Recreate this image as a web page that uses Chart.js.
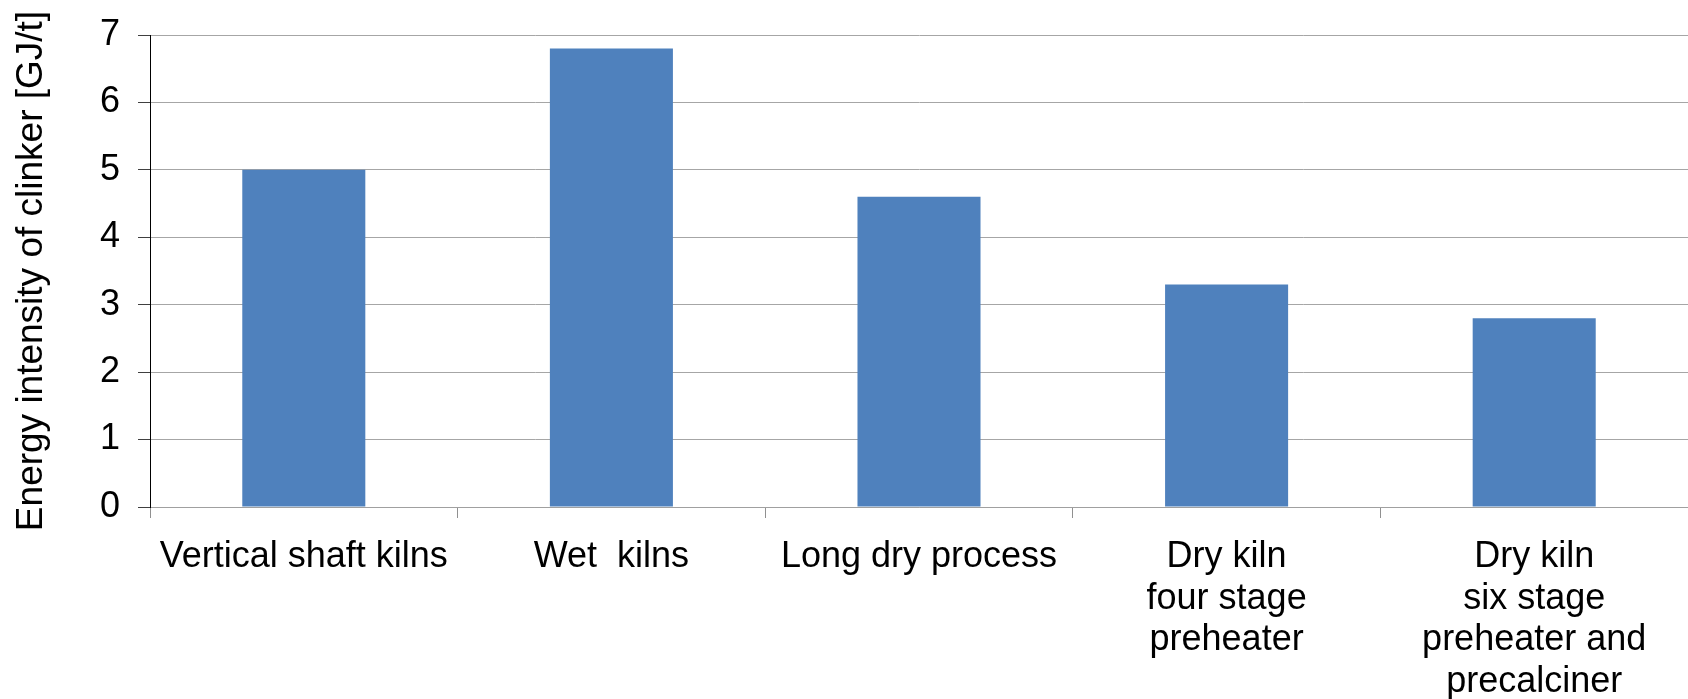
<!DOCTYPE html>
<html>
<head>
<meta charset="utf-8">
<script src="https://cdn.jsdelivr.net/npm/chart.js@4"></script>
<style>
  html, body { margin: 0; padding: 0; background: #fff; }
  #wrap { width: 1688px; height: 699px; }
</style>
</head>
<body>
<div id="wrap"><canvas id="c" width="1688" height="699"></canvas></div>
<script>
// Kiln technologies and their clinker energy intensity
const categories = [
  'Vertical shaft kilns',
  'Wet  kilns',
  'Long dry process',
  ['Dry kiln', 'four stage', 'preheater'],
  ['Dry kiln', 'six stage', 'preheater and', 'precalciner']
];
const energyIntensity = [5.0, 6.8, 4.6, 3.3, 2.8];
const yTicks = [0, 1, 2, 3, 4, 5, 6, 7];

const FONT = '"Liberation Sans", Arial, sans-serif';

new Chart(document.getElementById('c'), {
  type: 'bar',
  data: {
    labels: categories,
    datasets: [{
      data: energyIntensity,
      backgroundColor: '#4F81BD',
      borderWidth: 0,
      barPercentage: 0.4,
      categoryPercentage: 1.0
    }]
  },
  options: {
    responsive: false,
    animation: false,
    layout: { padding: { top: 35, right: 0, left: 0, bottom: 0 } },
    plugins: { legend: { display: false }, tooltip: { enabled: false } },
    scales: {
      x: {
        afterFit: s => { s.height = 192; },
        border: { color: '#a0a0a0', width: 1 },
        grid: { drawOnChartArea: false, drawTicks: true, tickLength: 11, color: '#909090', offset: true },
        ticks: {
          autoSkip: false, maxRotation: 0, minRotation: 0,
          color: '#000', padding: 18,
          font: { family: FONT, size: 36, lineHeight: 1.16 }
        }
      },
      y: {
        min: 0, max: 7,
        afterFit: s => { s.width = 150; },
        afterBuildTicks: s => { s.ticks = yTicks.map(v => ({ value: v })); },
        border: { color: '#000', width: 1 },
        grid: { color: '#a6a6a6', lineWidth: 1, tickColor: '#404040', tickLength: 12, drawTicks: true },
        ticks: {
          color: '#000', padding: 18,
          font: { family: FONT, size: 36, lineHeight: 0.8 }
        },
        title: {
          display: true,
          text: 'Energy intensity of clinker [GJ/t]',
          color: '#000',
          padding: { top: 10, bottom: 0 },
          font: { family: FONT, size: 37 }
        }
      }
    }
  }
});
</script>
</body>
</html>
